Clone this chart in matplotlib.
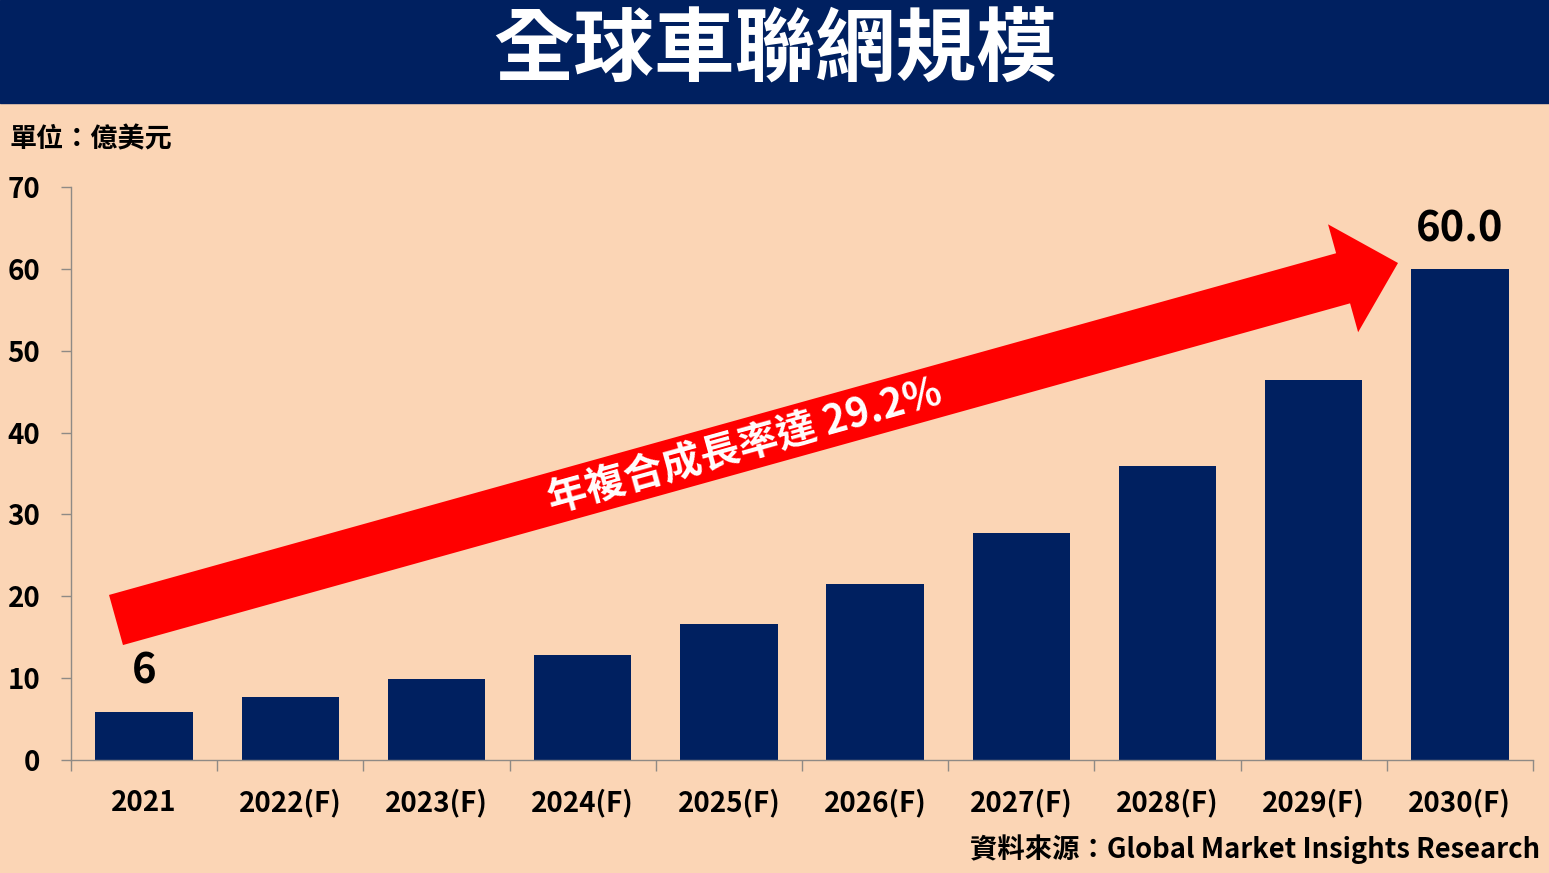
import matplotlib.pyplot as plt
from matplotlib.patches import Polygon, Rectangle
import numpy as np

plt.rcParams['font.family'] = ['Noto Sans CJK TC', 'DejaVu Sans']
plt.rcParams['font.weight'] = 'bold'

years = ['2021', '2022(F)', '2023(F)', '2024(F)', '2025(F)',
         '2026(F)', '2027(F)', '2028(F)', '2029(F)', '2030(F)']
values = [5.9, 7.7, 9.9, 12.8, 16.6, 21.5, 27.7, 35.9, 46.4, 60.0]
yticks = [0, 10, 20, 30, 40, 50, 60, 70]

bg = '#FBD5B5'
navy = '#002060'
W, H = 1549, 873

fig = plt.figure(figsize=(W / 100, H / 100), dpi=100, facecolor=bg)

# plot area
ax = fig.add_axes([71 / W, 1 - 760 / H, (1533 - 71) / W, (760 - 187) / H])
ax.set_facecolor(bg)
x = np.arange(len(years))
ax.bar(x, values, width=0.665, color=navy, zorder=2)
ax.set_xlim(-0.5, len(years) - 0.5)
ax.set_ylim(0, 70)
ax.set_yticks(yticks)
ax.set_yticklabels([str(t) for t in yticks], fontsize=20, fontweight='bold')
ax.set_xticks(x)
ax.set_xticklabels(years, fontsize=20, fontweight='bold')
for lbl in ax.get_xticklabels():
    lbl.set_verticalalignment('baseline')
ax.set_xticks(np.arange(-0.5, len(years)), minor=True)
ax.tick_params(axis='x', which='major', length=0, pad=37)
ax.tick_params(axis='x', which='minor', length=8, color='#8f8a85', width=1)
ax.tick_params(axis='y', length=7, color='#8f8a85', width=1, pad=15)
for s in ['top', 'right']:
    ax.spines[s].set_visible(False)
for s in ['left', 'bottom']:
    ax.spines[s].set_color('#8f8a85')
    ax.spines[s].set_linewidth(1)

ax.text(x[0], values[0] + 2.3, '6', ha='center', va='bottom', fontsize=30, fontweight='bold')
ax.text(x[-1], values[-1] + 2.3, '%.1f' % values[-1], ha='center', va='bottom',
        fontsize=30, fontweight='bold')

# overlay in pixel coordinates
ov = fig.add_axes([0, 0, 1, 1])
ov.set_xlim(0, W)
ov.set_ylim(H, 0)
ov.axis('off')
ov.patch.set_alpha(0)

ov.add_patch(Rectangle((0, 0), W, 103, color=navy))
ov.text(W / 2, 52, '全球車聯網規模', color='white', fontsize=58, fontweight='bold',
        ha='center', va='center')
ov.text(10, 139, '單位：億美元', fontsize=19.5, fontweight='bold', ha='left', va='center')
ov.text(1540, 849, '資料來源：Global Market Insights Research', fontsize=19.7,
        fontweight='bold', ha='right', va='center')

# growth arrow
tail = np.array([116.0, 620.0])
tip = np.array([1398.0, 263.0])
d = tip - tail
L = np.hypot(*d)
u = d / L
n = np.array([u[1], -u[0]])
sw, hw, hl = 26, 56, 57
base = tip - u * hl
pts = [tail + n * sw, base + n * sw, base + n * hw, tip,
       base - n * hw, base - n * sw, tail - n * sw]
ov.add_patch(Polygon(pts, closed=True, color='#FF0000', lw=0))
ang = np.degrees(np.arctan2(-d[1], d[0]))
ov.text(745, 447, '年複合成長率達 29.2%', color='white', fontsize=28.5, fontweight='bold',
        rotation=ang, rotation_mode='anchor', ha='center', va='center')

fig.savefig('out.png', dpi=100, facecolor=bg)
